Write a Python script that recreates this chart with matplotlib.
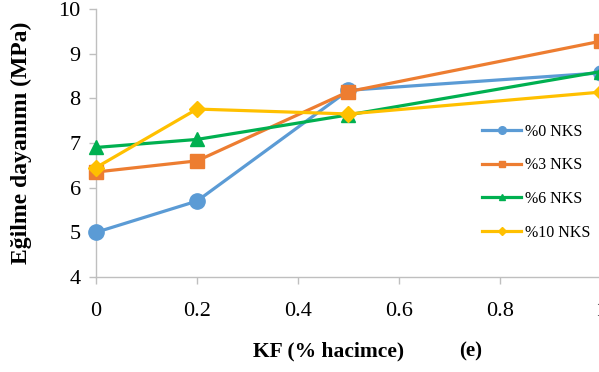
import matplotlib.pyplot as plt

kf = [0, 0.2, 0.5, 1.0]
nks0 = [5.0, 5.7, 8.18, 8.57]
nks3 = [6.35, 6.6, 8.15, 9.28]
nks6 = [6.9, 7.08, 7.63, 8.6]
nks10 = [6.45, 7.76, 7.65, 8.14]
labels = ["%0 NKS", "%3 NKS", "%6 NKS", "%10 NKS"]

plt.rcParams['font.family'] = ['Liberation Serif', 'DejaVu Serif']

fig = plt.figure(figsize=(5.99, 3.72), dpi=100)
ax = fig.add_axes([0.1603, 0.2554, 0.8430, 0.7204])

styles = [
    (nks0, '#5B9BD5', 'o', 11),
    (nks3, '#ED7D31', 's', 10),
    (nks6, '#00B050', '^', 10),
    (nks10, '#FFC000', 'D', 8),
]
for (vals, col, mk, ms), lab in zip(styles, labels):
    ax.plot(kf, vals, color=col, marker=mk, markersize=ms, linewidth=2.3,
            label=lab, clip_on=False, zorder=3)

ax.set_xlim(0, 1)
ax.set_ylim(4, 10)
ax.set_xticks([0, 0.2, 0.4, 0.6, 0.8, 1.0])
ax.set_xticklabels(["0", "0.2", "0.4", "0.6", "0.8", "1"])
ax.set_yticks([4, 5, 6, 7, 8, 9, 10])

for s in ['top', 'right']:
    ax.spines[s].set_visible(False)
for s in ['left', 'bottom']:
    ax.spines[s].set_color('#bfbfbf')
    ax.spines[s].set_linewidth(1.0)
ax.tick_params(axis='both', colors='#bfbfbf', labelcolor='black',
               labelsize=16, length=5, width=1.0)
ax.tick_params(axis='x', pad=13)
ax.tick_params(axis='y', pad=6)

ax.set_ylabel("Eğilme dayanımı (MPa)", fontsize=17, fontweight='bold')
ax.yaxis.set_label_coords(-0.127, 0.5)
fig.text(0.548, 0.054, "KF (% hacimce)", fontsize=15.5, fontweight='bold',
         ha='center', va='center')
fig.text(0.785, 0.054, "(e)", fontsize=15, fontweight='bold',
         ha='center', va='center')

leg = ax.legend(loc='upper left', bbox_to_anchor=(0.735, 0.625), frameon=False,
                fontsize=11.5, markerscale=0.5, handlelength=2.5,
                labelspacing=1.1, handletextpad=0.2)

fig.savefig("out.png", dpi=100)
